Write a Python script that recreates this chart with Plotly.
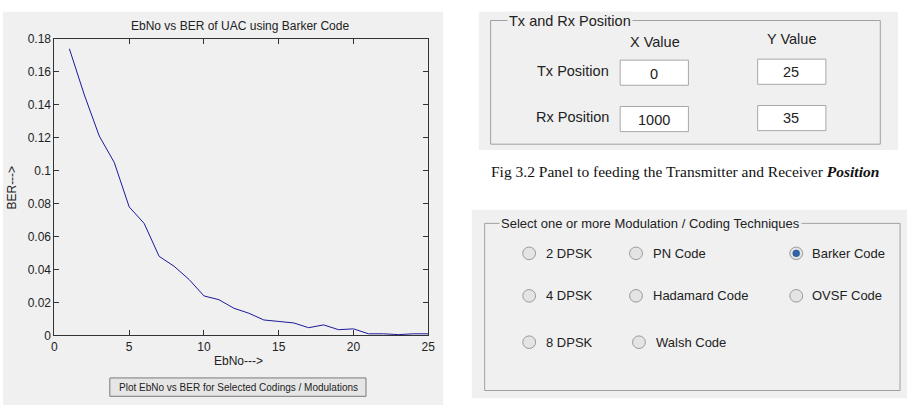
import plotly.graph_objects as go

# ---- data ----
ebno = list(range(1, 26))
ber = [0.174, 0.146, 0.121, 0.105, 0.078, 0.068, 0.048, 0.042, 0.034, 0.024,
       0.0217, 0.0165, 0.0135, 0.0094, 0.0085, 0.0076, 0.0047, 0.0064, 0.0035, 0.0040,
       0.0010, 0.0010, 0.0005, 0.0010, 0.0010]
x_ticks = [0, 5, 10, 15, 20, 25]
y_ticks = [0, 0.02, 0.04, 0.06, 0.08, 0.1, 0.12, 0.14, 0.16, 0.18]
y_tick_labels = ["0", "0.02", "0.04", "0.06", "0.08", "0.1", "0.12", "0.14", "0.16", "0.18"]

chart_title = "EbNo vs BER of UAC using Barker Code"
x_label = "EbNo--->"
y_label = "BER--->"
button_text = "Plot EbNo vs BER for Selected Codings / Modulations"

pos_rows = ["Tx Position", "Rx Position"]
pos_cols = ["X Value", "Y Value"]
pos_x_values = ["0", "1000"]
pos_y_values = ["25", "35"]

radio_labels = [["2 DPSK", "PN Code", "Barker Code"],
                ["4 DPSK", "Hadamard Code", "OVSF Code"],
                ["8 DPSK", "Walsh Code", None]]
radio_selected = "Barker Code"

caption = "Fig 3.2 Panel to feeding the Transmitter and Receiver <b><i>Position</i></b>"

W, H = 914, 412
GRAY = "#f0f0f0"
TXT = "#222222"
FONT = "Liberation Sans, Arial, sans-serif"


def px(x):
    return x / W


def py(y):
    return 1 - y / H


fig = go.Figure()
fig.add_trace(go.Scatter(x=ebno, y=ber, mode="lines",
                         line=dict(color="#1a1a9a", width=1), showlegend=False,
                         hoverinfo="x+y"))

shapes = []
annotations = []


def rect(x0, y0, x1, y1, fill=None, line=None, lw=1, layer="below"):
    shapes.append(dict(type="rect", xref="paper", yref="paper",
                       x0=px(x0), x1=px(x1), y0=py(y1), y1=py(y0),
                       fillcolor=fill if fill else "rgba(0,0,0,0)",
                       line=dict(color=line if line else "rgba(0,0,0,0)", width=lw if line else 0),
                       layer=layer))


def text(x, y, s, size=12, xanchor="center", color=TXT, font=FONT, bg=None, angle=0):
    a = dict(xref="paper", yref="paper", x=px(x), y=py(y), text=s, showarrow=False,
             xanchor=xanchor, yanchor="middle", textangle=angle,
             font=dict(size=size, color=color, family=font))
    if bg:
        a["bgcolor"] = bg
        a["borderpad"] = 1
    annotations.append(a)


# left panel background
rect(0, 5, 445, 412, fill=GRAY)
# right top panel
rect(481, 5, 905, 148, fill=GRAY)
# right bottom panel
rect(474, 210, 914, 405, fill=GRAY)

# frames
rect(493, 14, 887, 142, line="#a0a0a0", layer="above")
rect(487, 224, 907, 397, line="#a0a0a0", layer="above")
text(510, 14, "Tx and Rx Position", size=14.5, xanchor="left", bg=GRAY)
text(501, 224, "Select one or more Modulation / Coding Techniques", size=13, xanchor="left", bg=GRAY)

# position panel
text(659, 36, pos_cols[0], size=14.5)
text(797, 33, pos_cols[1], size=14.5)
row_y = [67, 115]
for i, lab in enumerate(pos_rows):
    text(615, row_y[i] - 1, lab, size=14.5, xanchor="right")
    rect(624, row_y[i] - 12, 693, row_y[i] + 14, fill="white", line="#a8a8a8", layer="above")
    rect(763, row_y[i] - 13, 832, row_y[i] + 13, fill="white", line="#a8a8a8", layer="above")
    text(658, row_y[i] + 2, pos_x_values[i], size=14.5)
    text(797, row_y[i], pos_y_values[i], size=14.5)

# caption
text(690, 170, caption, size=15.5, font="Liberation Serif, Times New Roman, serif", color="#111111")

# radio buttons
radio_rows_y = [255, 299, 347]
radio_cols = [[532, 547], [640, 655], [802, 816]]
for r, row in enumerate(radio_labels):
    for c, lab in enumerate(row):
        if lab is None:
            continue
        cx, lx = radio_cols[c]
        if r == 2 and c == 1:
            cx, lx = 643, 658
        cy = radio_rows_y[r]
        shapes.append(dict(type="circle", xref="paper", yref="paper",
                           x0=px(cx - 6.5), x1=px(cx + 6.5), y0=py(cy + 6.5), y1=py(cy - 6.5),
                           fillcolor="#e4e4e4", line=dict(color="#9a9a9a", width=1), layer="above"))
        if lab == radio_selected:
            shapes.append(dict(type="circle", xref="paper", yref="paper",
                               x0=px(cx - 3.5), x1=px(cx + 3.5), y0=py(cy + 3.5), y1=py(cy - 3.5),
                               fillcolor="#2f64a8", line=dict(color="#1f4a80", width=0.5), layer="above"))
        text(lx, cy, lab, size=13, xanchor="left")

# plot button
shapes.append(dict(type="rect", xref="paper", yref="paper",
                   x0=px(108), x1=px(367), y0=py(403), y1=py(384),
                   fillcolor="#e6e6e6", line=dict(color="#7a7a7a", width=1), layer="above"))
text(238, 394, button_text, size=10)

# axis titles
text(240, 20, chart_title, size=12)
text(238, 366, x_label, size=12)
text(9, 187, y_label, size=12, angle=-90)

axis_common = dict(showline=True, linecolor="#333333", linewidth=1, mirror="ticks",
                   ticks="inside", ticklen=5, tickcolor="#333333", showgrid=False,
                   zeroline=False, tickfont=dict(size=12, color=TXT, family=FONT))

fig.update_layout(
    width=W, height=H,
    margin=dict(l=0, r=0, t=0, b=0),
    paper_bgcolor="white", plot_bgcolor="white",
    xaxis=dict(domain=[px(52), px(430)], range=[0, 25], tickvals=x_ticks,
               ticktext=[str(v) for v in x_ticks], **axis_common),
    yaxis=dict(domain=[py(340), py(33)], range=[0, 0.18], tickvals=y_ticks,
               ticktext=y_tick_labels, **axis_common),
    shapes=shapes, annotations=annotations,
    font=dict(family=FONT, color=TXT),
)

fig.write_html("out.html")
